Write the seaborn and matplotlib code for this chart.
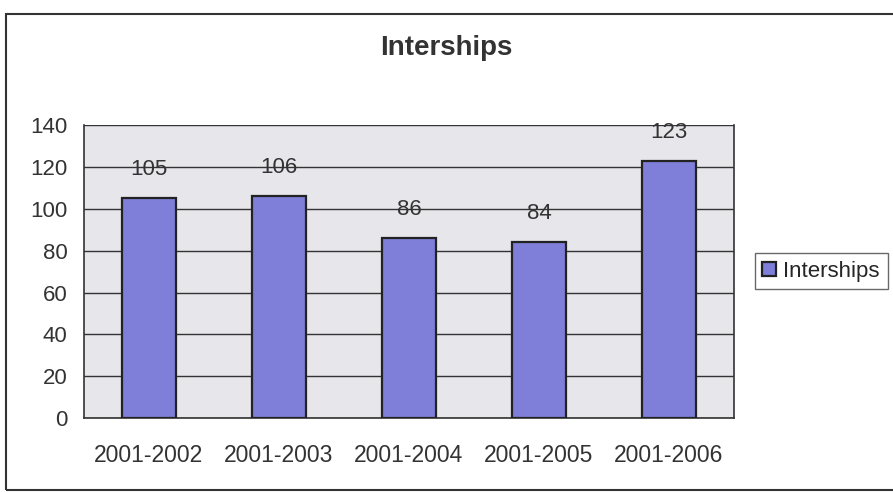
import matplotlib.pyplot as plt
import matplotlib.patches as mpatches
import seaborn as sns
import pandas as pd
import numpy as np

sns.set_style("white")
plt.rcParams["font.family"] = ["Liberation Sans", "DejaVu Sans"]

# data
years = ["2001-2002", "2001-2003", "2001-2004", "2001-2005", "2001-2006"]
interships = [105, 106, 86, 84, 123]
y_ticks = [0, 20, 40, 60, 80, 100, 120, 140]

df = pd.DataFrame({"Year": years, "Interships": interships})

fig = plt.figure(figsize=(8.93, 4.93), dpi=100)
ax = fig.add_axes([0.094, 0.152, 0.728, 0.594])
ax.set_facecolor("#E6E6EB")

sns.barplot(data=df, x="Year", y="Interships", color="#7F7FD9",
            edgecolor="#222222", linewidth=1.6, width=0.41, saturation=1,
            label="Interships", ax=ax, zorder=3)

ax.bar_label(ax.containers[0], padding=13, fontsize=16, color="#333333")

ax.set_ylim(0, 140)
ax.set_xlim(-0.5, len(years) - 0.5)
ax.set_yticks(y_ticks)
ax.yaxis.grid(True, color="#333333", linewidth=1.0, zorder=0)
ax.set_axisbelow(True)
ax.set_xlabel("")
ax.set_ylabel("")

# category ticks sit between the bars, labels in the middle
ax.set_xticks(np.arange(len(years)))
ax.set_xticklabels(years, fontsize=16.5, color="#333333")
ax.tick_params(axis="x", length=0, pad=19)
ax.set_xticks(np.arange(len(years) + 1) - 0.5, minor=True)
ax.tick_params(axis="x", which="minor", length=5, width=1, color="#333333",
               direction="out")
ax.tick_params(axis="y", length=4, width=1, color="#333333", pad=8,
               labelsize=16, labelcolor="#333333", direction="out")

for side in ["left", "bottom", "right"]:
    ax.spines[side].set_color("#333333")
    ax.spines[side].set_linewidth(1.2)
ax.spines["top"].set_visible(False)

fig.text(0.5, 0.888, "Interships", ha="center", va="baseline",
         fontsize=20, fontweight="bold", color="#333333")

leg = ax.legend(loc="center left", bbox_to_anchor=(0.845, 0.45),
                bbox_transform=fig.transFigure, fontsize=16, frameon=True,
                handlelength=0.6, handleheight=0.6, handletextpad=0.35,
                borderpad=0.35, borderaxespad=0, fancybox=False)
leg.get_frame().set_edgecolor("#444444")
leg.get_frame().set_linewidth(1.0)

# outer chart frame (runs off the right edge like the scan)
frame = mpatches.Rectangle((0.007, 0.006), 1.05, 0.966, transform=fig.transFigure,
                           fill=False, edgecolor="#333333", linewidth=1.5,
                           clip_on=False)
fig.patches.append(frame)

fig.savefig("out.png", dpi=100, facecolor="white")
